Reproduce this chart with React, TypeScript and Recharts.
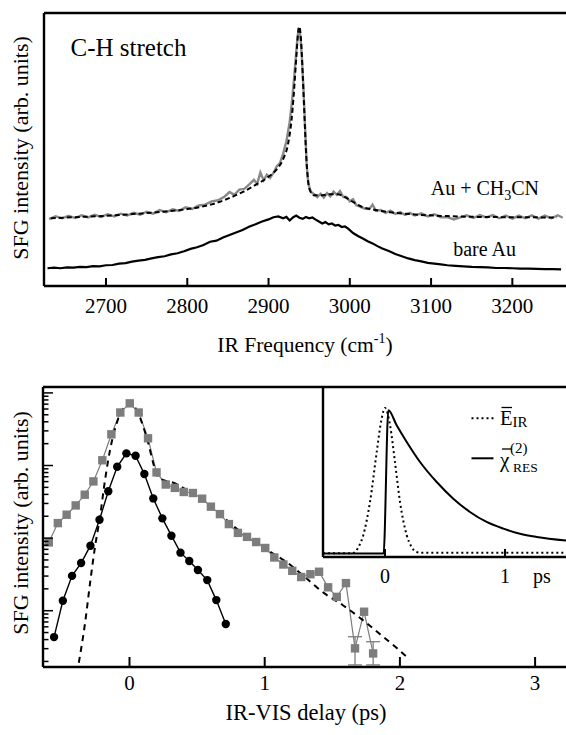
import React from 'react';
import { LineChart, Line, XAxis, YAxis, ReferenceLine, ErrorBar } from 'recharts';

const FONT = 'Liberation Serif, DejaVu Serif, Tinos, Times New Roman, Times, serif';

// ---------- Top panel: SFG spectra ----------
const freqTicks = [2700, 2800, 2900, 3000, 3100, 3200];

const greyFreq = [2630, 2638, 2646, 2654, 2662, 2670, 2678, 2686, 2694, 2702, 2710, 2718, 2726, 2734, 2742, 2750, 2758, 2766, 2774, 2782, 2790, 2798, 2806, 2814, 2822, 2830, 2838, 2846, 2852, 2858, 2864, 2870, 2876, 2882, 2886, 2890, 2894, 2898, 2902, 2906, 2910, 2914, 2918, 2922, 2926, 2929, 2932, 2935, 2937, 2939, 2941, 2943, 2945, 2947, 2949, 2952, 2956, 2960, 2964, 2968, 2972, 2976, 2980, 2984, 2988, 2992, 2996, 3000, 3004, 3008, 3012, 3018, 3024, 3028, 3032, 3038, 3044, 3050, 3056, 3062, 3068, 3074, 3080, 3088, 3096, 3104, 3112, 3120, 3128, 3136, 3144, 3152, 3160, 3168, 3176, 3184, 3192, 3200, 3208, 3216, 3224, 3232, 3240, 3248, 3256, 3262];
const greyInt = [24.5, 25.5, 24.8, 25.7, 24.9, 25.9, 25.1, 26.1, 25.3, 26.3, 25.5, 26.5, 25.8, 26.8, 26.1, 27.2, 26.5, 27.8, 27.0, 28.1, 27.5, 28.8, 28.2, 29.5, 29.8, 31.0, 31.4, 32.8, 34.4, 33.4, 35.3, 35.6, 37.1, 38.9, 37.4, 41.6, 38.7, 40.8, 39.6, 41.4, 43.8, 45.0, 48.5, 53.0, 60.0, 68.0, 78.0, 89.0, 94.5, 92.0, 84.0, 72.0, 58.0, 44.0, 37.5, 34.5, 33.6, 32.6, 33.8, 32.4, 34.0, 32.8, 34.6, 33.4, 34.8, 32.6, 32.6, 31.0, 31.8, 29.6, 29.2, 28.4, 28.2, 29.8, 27.6, 27.8, 26.8, 27.6, 26.4, 27.1, 26.0, 26.8, 25.8, 26.6, 25.5, 26.3, 25.2, 25.2, 24.4, 25.1, 25.9, 24.9, 26.0, 25.1, 26.0, 24.8, 25.8, 24.7, 25.8, 24.8, 25.9, 24.7, 25.8, 24.8, 25.9, 25.0];

const fitFreq = [2632, 2660, 2700, 2740, 2780, 2810, 2830, 2850, 2870, 2885, 2900, 2910, 2918, 2924, 2928, 2931, 2934, 2936.5, 2938, 2940, 2942, 2944, 2946, 2948, 2951, 2956, 2965, 2975, 2985, 2995, 3005, 3015, 3030, 3050, 3080, 3120, 3160, 3200, 3255];
const fitInt = [24.8, 25.2, 25.7, 26.5, 27.5, 28.6, 29.9, 32.0, 34.7, 37.2, 40.0, 42.7, 46.5, 52.0, 60.0, 70.0, 83.0, 93.0, 95.0, 90.0, 78.0, 64.0, 50.0, 40.5, 35.0, 33.2, 33.2, 33.6, 33.6, 32.4, 30.6, 29.0, 27.9, 27.0, 26.2, 25.6, 25.3, 25.2, 25.1];

const bareFreq = [2628, 2636, 2644, 2652, 2660, 2668, 2676, 2684, 2692, 2700, 2708, 2716, 2724, 2732, 2740, 2748, 2756, 2764, 2772, 2780, 2788, 2796, 2804, 2812, 2820, 2828, 2836, 2844, 2852, 2860, 2868, 2876, 2884, 2892, 2900, 2906, 2912, 2918, 2922, 2926, 2930, 2934, 2938, 2942, 2946, 2950, 2954, 2958, 2962, 2966, 2970, 2974, 2978, 2982, 2986, 2990, 2994, 2998, 3004, 3010, 3016, 3022, 3028, 3034, 3040, 3048, 3056, 3064, 3072, 3080, 3088, 3096, 3104, 3112, 3120, 3130, 3140, 3150, 3160, 3170, 3180, 3190, 3200, 3210, 3220, 3230, 3240, 3250, 3260];
const bareInt = [6.5, 6.7, 6.5, 6.8, 6.7, 7.0, 6.9, 7.3, 7.2, 7.6, 7.7, 8.2, 8.4, 8.9, 9.3, 9.6, 10.1, 10.6, 10.9, 11.6, 12.0, 12.7, 13.6, 14.2, 15.0, 16.2, 16.6, 17.8, 18.7, 19.6, 20.5, 21.7, 22.6, 23.6, 24.4, 25.2, 25.5, 24.8, 25.3, 24.0, 25.1, 25.8, 25.0, 24.6, 25.3, 24.8, 25.1, 24.3, 23.6, 22.9, 23.4, 22.6, 22.9, 22.1, 22.4, 21.6, 21.8, 21.0, 19.4, 18.3, 17.4, 16.4, 15.6, 14.6, 13.7, 12.8, 11.7, 10.9, 10.1, 9.5, 9.0, 8.5, 8.2, 7.9, 7.6, 7.4, 7.2, 7.0, 6.9, 6.8, 6.6, 6.6, 6.5, 6.4, 6.4, 6.3, 6.2, 6.2, 6.1];

// ---------- Bottom panel: delay scans (log scale) ----------
const delayTicks = [0, 1, 2, 3];
const logTicks = [0.2, 0.3, 0.4, 0.5, 0.6, 0.7, 0.8, 0.9, 1, 2, 3, 4, 5, 6, 7, 8, 9, 10, 20, 30, 40, 50, 60, 70, 80, 90, 100, 200, 300, 400, 500, 600, 700, 800, 900, 1000];

const sqDelay = [-0.597, -0.530, -0.465, -0.398, -0.331, -0.267, -0.201, -0.134, -0.068, 0.002, 0.068, 0.137, 0.200, 0.268, 0.335, 0.401, 0.469, 0.537, 0.602, 0.669, 0.735, 0.802, 0.869, 0.937, 1.004, 1.071, 1.138, 1.204, 1.270, 1.338, 1.402, 1.469, 1.533, 1.601, 1.668, 1.735, 1.802];
const sqSignal = [8.73, 16.1, 21.0, 28.2, 39.6, 60.4, 118, 269, 537, 718, 537, 237, 80.4, 54.7, 49.2, 43.2, 41.8, 34.9, 27.1, 21.4, 15.6, 11.8, 10.4, 8.83, 7.31, 5.41, 4.33, 3.54, 2.91, 3.18, 3.44, 2.10, 1.55, 2.40, 0.303, 0.968, 0.258];

const errDelay = [1.668, 1.802];
const errSignal = [0.303, 0.258];
const errLow = [0.179, 0.179];
const errHigh = [0.438, 0.374];

const circDelay = [-0.558, -0.493, -0.425, -0.358, -0.289, -0.222, -0.157, -0.091, -0.023, 0.045, 0.110, 0.176, 0.243, 0.310, 0.377, 0.442, 0.506, 0.575, 0.642, 0.712];
const circSignal = [0.433, 1.37, 3.02, 4.53, 7.86, 17.9, 44.1, 96, 147, 136, 76.2, 35.2, 18.7, 10.8, 6.30, 4.83, 3.63, 2.64, 1.40, 0.655];

const fitDelay = [-0.375, -0.329, -0.292, -0.255, -0.218, -0.181, -0.144, -0.095, -0.046, 0.0, 0.053, 0.102, 0.139, 0.176, 0.213, 0.263, 0.324, 0.424, 0.531, 0.638, 0.772, 0.906, 1.040, 1.174, 1.308, 1.442, 1.576, 1.710, 1.845, 1.979, 2.072];
const fitSignal = [0.192, 0.670, 2.38, 7.62, 19.7, 63.1, 163, 381, 614, 719, 581, 342, 202, 107, 68.7, 61.8, 57.9, 45.9, 35.2, 24.4, 14.4, 9.40, 6.50, 4.49, 2.79, 1.73, 1.20, 0.783, 0.488, 0.303, 0.214];

// ---------- Inset ----------
const insetTicks = [0, 1];
const eDelay = [-0.517, -0.30, -0.26, -0.22, -0.181, -0.125, -0.069, -0.028, 0.0, 0.042, 0.083, 0.125, 0.181, 0.22, 0.26, 0.30, 1.525];
const eAmp = [0.022, 0.022, 0.025, 0.06, 0.128, 0.324, 0.618, 0.814, 0.877, 0.775, 0.559, 0.324, 0.128, 0.06, 0.03, 0.025, 0.025];
const chiDelay = [-0.517, -0.012, 0.028, 0.097, 0.181, 0.292, 0.431, 0.569, 0.708, 0.847, 0.986, 1.125, 1.264, 1.525];
const chiAmp = [0.02, 0.02, 0.863, 0.775, 0.677, 0.559, 0.441, 0.343, 0.265, 0.206, 0.167, 0.137, 0.118, 0.096];

// ---------- Build series tables ----------
const greyData = greyFreq.map((f, i) => ({ f, v: greyInt[i] }));
const fitData = fitFreq.map((f, i) => ({ f, v: fitInt[i] }));
const bareData = bareFreq.map((f, i) => ({ f, v: bareInt[i] }));
const sqData = sqDelay.map((t, i) => ({ t, s: sqSignal[i] }));
const errData = errDelay.map((t, i) => ({ t, s: errSignal[i], e: [errSignal[i] - errLow[i], errHigh[i] - errSignal[i]] }));
const circData = circDelay.map((t, i) => ({ t, s: circSignal[i] }));
const fitDData = fitDelay.map((t, i) => ({ t, s: fitSignal[i] }));
const eData = eDelay.map((t, i) => ({ t, a: eAmp[i] }));
const chiData = chiDelay.map((t, i) => ({ t, a: chiAmp[i] }));

const AX = { stroke: '#000', strokeWidth: 2.4 };
const GREY = '#898989';
const SQ = '#7d7d7d';

const txt = (size: number) => ({ fill: '#000', style: { fontFamily: FONT, fontSize: size } });

const freqTick = (p: any) => {
  const { x, y, payload } = p;
  return (
    <g>
      <line x1={x} x2={x} y1={y} y2={y - 8} stroke="#000" strokeWidth={2} />
      <text x={x} y={y + 27} textAnchor="middle" {...txt(21)}>{payload.value}</text>
    </g>
  );
};

const delayTick = (p: any) => {
  const { x, y, payload } = p;
  return (
    <g>
      <line x1={x} x2={x} y1={y} y2={y - 10} stroke="#000" strokeWidth={2} />
      <text x={x} y={y + 23} textAnchor="middle" {...txt(21)}>{payload.value}</text>
    </g>
  );
};

const insetTick = (p: any) => {
  const { x, y, payload } = p;
  return (
    <g>
      <line x1={x} x2={x} y1={y} y2={y - 8} stroke="#000" strokeWidth={2} />
      <text x={x} y={y + 26} textAnchor="middle" {...txt(20)}>{payload.value}</text>
      {payload.value === 1 ? <text x={x + 28} y={y + 26} {...txt(20)}>ps</text> : null}
    </g>
  );
};

const logTick = (p: any) => {
  const { x, y, payload } = p;
  const lg = Math.log10(payload.value);
  const major = Math.abs(lg - Math.round(lg)) < 1e-6;
  return <line x1={x} x2={x + (major ? 10 : 5.5)} y1={y} y2={y} stroke="#000" strokeWidth={1.5} />;
};

const squareDot = (p: any) => {
  const { cx, cy, index } = p;
  if (cx == null || cy == null) return <g key={`sq-${index}`} />;
  return <rect key={`sq-${index}`} x={cx - 4.2} y={cy - 4.2} width={8.4} height={8.4} fill={SQ} />;
};

const topXTitle = () => (
  <text x={305} y={352} textAnchor="middle" {...txt(21.5)}>
    IR Frequency (cm<tspan style={{ fontSize: 14 }} dy={-9}>-1</tspan><tspan dy={9}>)</tspan>
  </text>
);
const topYTitle = () => (
  <text x={27.5} y={148} transform="rotate(-90 27.5 148)" textAnchor="middle" {...txt(22)}>
    SFG intensity (arb. units)
  </text>
);
const topNotes = () => (
  <g>
    <text x={70.5} y={55.5} {...txt(25)}>C-H stretch</text>
    <text x={539} y={195} textAnchor="end" {...txt(20)}>
      Au + CH<tspan style={{ fontSize: 14 }} dy={5}>3</tspan><tspan dy={-5}>CN</tspan>
    </text>
    <text x={516} y={256} textAnchor="end" {...txt(20)}>bare Au</text>
  </g>
);

const botXTitle = () => (
  <text x={306} y={350} textAnchor="middle" {...txt(22.5)}>IR-VIS delay (ps)</text>
);
const botYTitle = () => (
  <text x={27.5} y={153} transform="rotate(-90 27.5 153)" textAnchor="middle" {...txt(22)}>
    SFG intensity (arb. units)
  </text>
);

const insetLegend = () => (
  <g>
    <line x1={471.5} x2={493.5} y1={48.3} y2={48.3} stroke="#000" strokeWidth={2} strokeDasharray="2 3" />
    <text x={500} y={54.5} {...txt(20.5)}>E</text>
    <line x1={501.5} x2={512} y1={37.5} y2={37.5} stroke="#000" strokeWidth={1.3} />
    <text x={512.5} y={56.5} {...txt(15)}>IR</text>
    <line x1={471.5} x2={493.5} y1={88.3} y2={88.3} stroke="#000" strokeWidth={2} />
    <text x={500} y={97} {...txt(21)}>χ</text>
    <line x1={502} x2={511} y1={79} y2={79} stroke="#000" strokeWidth={1.3} />
    <text x={510} y={82.5} {...txt(15)}>(2)</text>
    <text x={513} y={101.7} {...txt(13.5)}>RES</text>
  </g>
);

export default function App() {
  return (
    <div style={{ position: 'absolute', left: 0, top: 0, width: 566, height: 735, overflow: 'hidden', background: '#fff' }}>
      {/* Top panel */}
      <div style={{ position: 'absolute', left: 0, top: 0 }}>
        <LineChart width={580} height={370} margin={{ top: 13, right: 12, bottom: 0, left: 0 }}>
          <XAxis type="number" dataKey="f" domain={[2623.7, 3268.5]} allowDataOverflow ticks={freqTicks} interval={0}
            tickSize={0} tickMargin={0} tickLine={false} tick={freqTick} axisLine={AX} height={84} label={topXTitle} />
          <YAxis type="number" domain={[0, 100]} allowDataOverflow width={44} tick={false} tickLine={false}
            axisLine={AX} label={topYTitle} />
          <ReferenceLine y={100} stroke="#000" strokeWidth={2.4} ifOverflow="visible" label={topNotes} />
          <Line data={bareData} dataKey="v" type="linear" stroke="#000" strokeWidth={2.2} dot={false} isAnimationActive={false} />
          <Line data={greyData} dataKey="v" type="linear" stroke={GREY} strokeWidth={2.4} dot={false} isAnimationActive={false} />
          <Line data={fitData} dataKey="v" type="monotone" stroke="#000" strokeWidth={2} strokeDasharray="5 3" dot={false} isAnimationActive={false} />
        </LineChart>
      </div>

      {/* Bottom panel */}
      <div style={{ position: 'absolute', left: 0, top: 370 }}>
        <LineChart width={580} height={365} margin={{ top: 17, right: 12, bottom: 0, left: 0 }}>
          <XAxis type="number" dataKey="t" domain={[-0.6398, 3.2433]} allowDataOverflow ticks={delayTicks} interval={0}
            tickSize={0} tickMargin={0} tickLine={false} tick={delayTick} axisLine={AX} height={68} label={botXTitle} />
          <YAxis type="number" scale="log" domain={[0.1677, 1206]} allowDataOverflow ticks={logTicks} interval={0}
            tickSize={0} tickMargin={0} tickLine={false} tick={logTick} width={43} axisLine={AX} label={botYTitle} />
          <ReferenceLine y={1206} stroke="#000" strokeWidth={2.4} ifOverflow="visible" />
          <Line data={sqData} dataKey="s" type="linear" stroke={SQ} strokeWidth={1.2} dot={squareDot} isAnimationActive={false} />
          <Line data={errData} dataKey="s" type="linear" stroke="none" dot={false} isAnimationActive={false}>
            <ErrorBar dataKey="e" direction="y" width={7} stroke={SQ} strokeWidth={1.3} />
          </Line>
          <Line data={fitDData} dataKey="s" type="monotone" stroke="#000" strokeWidth={2} strokeDasharray="6 5" dot={false} isAnimationActive={false} />
          <Line data={circData} dataKey="s" type="linear" stroke="#000" strokeWidth={1.4}
            dot={{ r: 4.2, fill: '#000', stroke: '#000', strokeWidth: 0 }} isAnimationActive={false} />
        </LineChart>
      </div>

      {/* Inset */}
      <div style={{ position: 'absolute', left: 0, top: 370 }}>
        <LineChart width={580} height={365} margin={{ top: 17, right: 12, bottom: 0, left: 0 }}>
          <XAxis type="number" dataKey="t" domain={[-0.5167, 1.525]} allowDataOverflow ticks={insetTicks} interval={0}
            tickSize={0} tickMargin={0} tickLine={false} tick={insetTick} axisLine={AX} height={178} />
          <YAxis type="number" domain={[0, 1]} allowDataOverflow width={323} tick={false} tickLine={false}
            axisLine={AX} label={insetLegend} />
          <Line data={eData} dataKey="a" type="monotone" stroke="#000" strokeWidth={2} strokeDasharray="2 3" dot={false} isAnimationActive={false} />
          <Line data={chiData} dataKey="a" type="monotone" stroke="#000" strokeWidth={2} dot={false} isAnimationActive={false} />
        </LineChart>
      </div>
    </div>
  );
}
